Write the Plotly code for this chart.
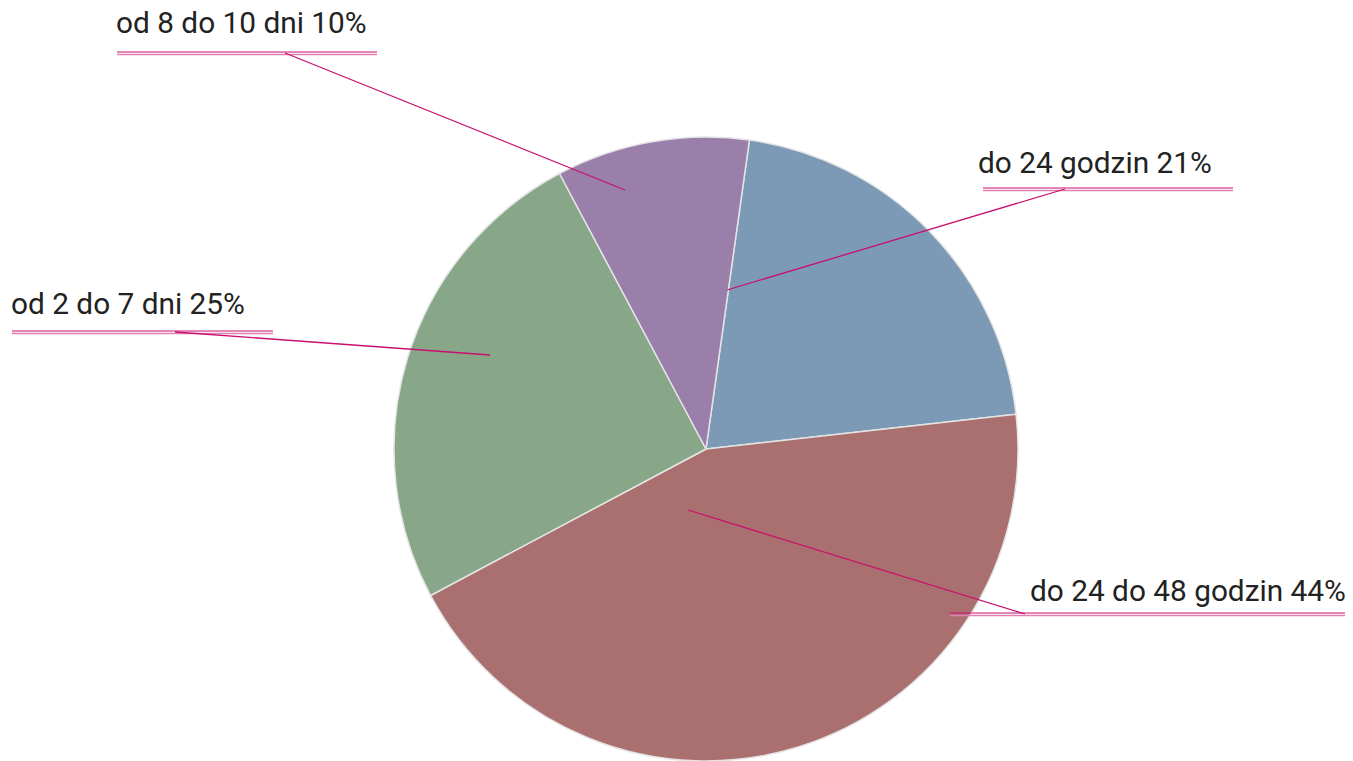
import plotly.graph_objects as go

labels = ["do 24 godzin", "do 24 do 48 godzin", "od 2 do 7 dni", "od 8 do 10 dni"]
values = [21, 44, 25, 10]
colors = ["#7c9ab6", "#aa7070", "#88a688", "#9a7fab"]

W, H = 1353, 761

# label layout (pixel positions): text left x, text center y, underline x0, x1, underline y, leader start x, leader end (x, y)
label_layout = {
    "do 24 godzin": dict(tx=976, ty=162, ux0=983, ux1=1233, uy=188, lx=1065, ex=727, ey=290),
    "do 24 do 48 godzin": dict(tx=1028, ty=590, ux0=950, ux1=1345, uy=613, lx=1025, ex=688, ey=510),
    "od 2 do 7 dni": dict(tx=9, ty=303, ux0=12, ux1=273, uy=331, lx=175, ex=490, ey=355),
    "od 8 do 10 dni": dict(tx=114, ty=22, ux0=117, ux1=377, uy=52, lx=285, ex=625, ey=190),
}

fig = go.Figure()
fig.add_trace(go.Pie(
    labels=labels, values=values, sort=False, direction="clockwise", rotation=8,
    marker=dict(colors=colors, line=dict(color="#e4e4e4", width=1.5)),
    textinfo="none", showlegend=False,
    domain=dict(x=[393 / W, 1019 / W], y=[0, 0.82]),
))
# invisible scatter to create pixel-coordinate axes
fig.add_trace(go.Scatter(x=[0, W], y=[0, H], mode="markers", marker=dict(opacity=0),
                         hoverinfo="skip", showlegend=False))

shapes = []
annotations = []
for lab, val in zip(labels, values):
    L = label_layout[lab]
    annotations.append(dict(x=L["tx"], y=L["ty"], xref="x", yref="y", text=f"{lab} {val}%",
                            showarrow=False, xanchor="left", yanchor="middle",
                            font=dict(family="Roboto", size=29.8, color="#222222")))
    shapes.append(dict(type="line", xref="x", yref="y", x0=L["ux0"], x1=L["ux1"], y0=L["uy"], y1=L["uy"],
                       line=dict(color="#c8106e", width=1.2)))
    shapes.append(dict(type="line", xref="x", yref="y", x0=L["ux0"], x1=L["ux1"], y0=L["uy"] + 2.6, y1=L["uy"] + 2.6,
                       line=dict(color="#e07fb0", width=1.5)))
    shapes.append(dict(type="line", xref="x", yref="y", x0=L["lx"], x1=L["ex"], y0=L["uy"] + 1, y1=L["ey"],
                       line=dict(color="#c8106e", width=1.3)))

fig.update_layout(
    width=W, height=H, margin=dict(l=0, r=0, t=0, b=0),
    paper_bgcolor="white", plot_bgcolor="rgba(0,0,0,0)",
    xaxis=dict(range=[0, W], visible=False, fixedrange=True),
    yaxis=dict(range=[H, 0], visible=False, fixedrange=True),
    shapes=shapes, annotations=annotations,
)
fig.write_html("out.html", config={"displayModeBar": False},
               post_script="document.body.style.margin='0';document.body.style.overflow='hidden';")
